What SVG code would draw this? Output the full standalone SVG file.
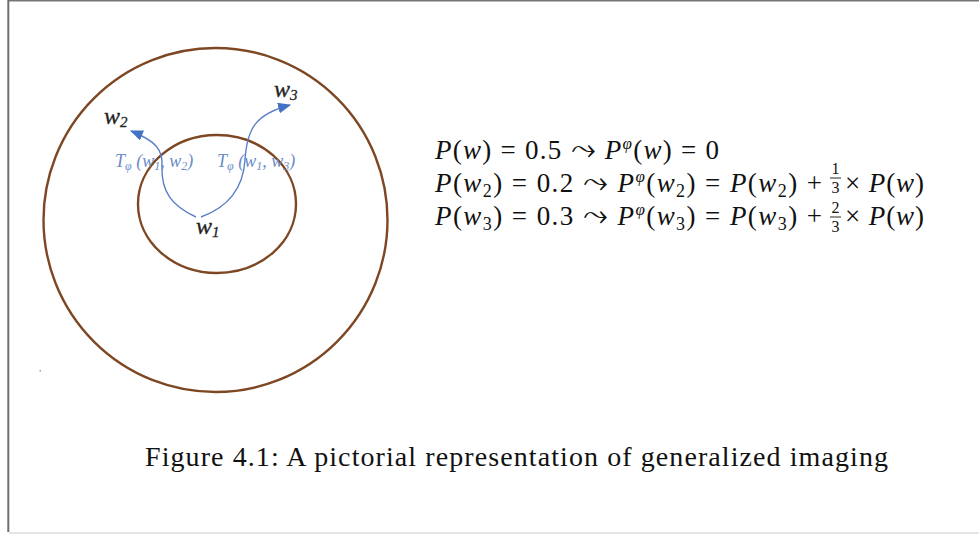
<svg xmlns="http://www.w3.org/2000/svg" width="979" height="534" viewBox="0 0 979 534">
<style>
.ring{fill:none;stroke:#7e4723;stroke-width:2.4}
.arc{fill:none;stroke:#5b80c6;stroke-width:1.4}
.lbl{font-family:"Liberation Serif",serif;font-style:italic;font-size:24px;fill:#222;stroke:#222;stroke-width:0.3}
.tl{font-family:"Liberation Serif",serif;font-style:italic;font-size:18px;fill:#6a8cc8}
.eq{font-family:"Liberation Serif","DejaVu Serif",serif;font-size:27px;fill:#111}
.i{font-style:italic}
.ar{font-family:"DejaVu Sans",sans-serif;font-size:31px}
.fr{font-family:"Liberation Serif",serif;font-size:16px;fill:#111}
.cap{font-family:"Liberation Serif",serif;font-size:28px;fill:#111}
</style>
<defs>
<marker id="ah" viewBox="0 0 12 10" refX="11" refY="5" markerWidth="13" markerHeight="11" markerUnits="userSpaceOnUse" orient="auto">
<path d="M0,0 L12,5 L0,10 Z" fill="#4472c4"/>
</marker>
</defs>
<rect x="0" y="0" width="979" height="534" fill="#fff"/>
<g id="frame">
<line x1="8" y1="0.8" x2="979" y2="0.8" stroke="#777" stroke-width="1.6"/>
<line x1="8.3" y1="0" x2="8.3" y2="532" stroke="#6e6e6e" stroke-width="2"/>
<line x1="9" y1="533" x2="979" y2="533" stroke="#ccc" stroke-width="1.2"/>
<rect x="39.5" y="370" width="1.5" height="1.5" fill="#999"/>
</g>
<g id="outer-world"><circle class="ring" cx="215.5" cy="220" r="172"/></g>
<g id="inner-world"><ellipse class="ring" cx="217" cy="204" rx="79" ry="69"/></g>
<g id="connectors">
<path class="arc" d="M196,217 C172,206 161,192 162,166 C163,150 156,141 131,131" marker-end="url(#ah)"/>
<path class="arc" d="M201,217 C226,208 243,190 245,160 C247,128 256,114 290,105" marker-end="url(#ah)"/>
</g>
<g id="w1"><text class="lbl" x="196" y="234">w<tspan font-size="15" dy="3">1</tspan></text></g>
<g id="w2"><text class="lbl" x="104" y="124">w<tspan font-size="15" dy="3">2</tspan></text></g>
<g id="w3"><text class="lbl" x="274" y="97">w<tspan font-size="15" dy="3">3</tspan></text></g>
<g id="t12"><text class="tl" x="115" y="167">T<tspan font-size="12" dy="3">φ</tspan><tspan dy="-3"> (w</tspan><tspan font-size="12" dy="3">1</tspan><tspan dy="-3">, w</tspan><tspan font-size="12" dy="3">2</tspan><tspan dy="-3">)</tspan></text></g>
<g id="t13"><text class="tl" x="217" y="167">T<tspan font-size="12" dy="3">φ</tspan><tspan dy="-3"> (w</tspan><tspan font-size="12" dy="3">1</tspan><tspan dy="-3">, w</tspan><tspan font-size="12" dy="3">3</tspan><tspan dy="-3">)</tspan></text></g>
<g id="equations">
<text class="eq" x="435" y="159" textLength="284" lengthAdjust="spacing"><tspan class="i">P</tspan>(<tspan class="i">w</tspan>) = 0.5 <tspan class="ar">⤳</tspan> <tspan class="i">P</tspan><tspan class="i" font-size="17" dy="-10">φ</tspan><tspan dy="10">(</tspan><tspan class="i">w</tspan>) = 0</text>
<text class="eq" x="435" y="192" textLength="387" lengthAdjust="spacing"><tspan class="i">P</tspan>(<tspan class="i">w</tspan><tspan font-size="18" dy="5">2</tspan><tspan dy="-5">) = 0.2 </tspan><tspan class="ar">⤳</tspan> <tspan class="i">P</tspan><tspan class="i" font-size="17" dy="-10">φ</tspan><tspan dy="10">(</tspan><tspan class="i">w</tspan><tspan font-size="18" dy="5">2</tspan><tspan dy="-5">) = </tspan><tspan class="i">P</tspan>(<tspan class="i">w</tspan><tspan font-size="18" dy="5">2</tspan><tspan dy="-5">) +</tspan></text>
<text class="fr" x="835.5" y="174" text-anchor="middle">1</text>
<line x1="830" y1="178" x2="841" y2="178" stroke="#111" stroke-width="0.9"/>
<text class="fr" x="835.5" y="193" text-anchor="middle">3</text>
<text class="eq" x="845" y="192" textLength="79" lengthAdjust="spacing">× <tspan class="i">P</tspan>(<tspan class="i">w</tspan>)</text>
<text class="eq" x="435" y="225" textLength="387" lengthAdjust="spacing"><tspan class="i">P</tspan>(<tspan class="i">w</tspan><tspan font-size="18" dy="5">3</tspan><tspan dy="-5">) = 0.3 </tspan><tspan class="ar">⤳</tspan> <tspan class="i">P</tspan><tspan class="i" font-size="17" dy="-10">φ</tspan><tspan dy="10">(</tspan><tspan class="i">w</tspan><tspan font-size="18" dy="5">3</tspan><tspan dy="-5">) = </tspan><tspan class="i">P</tspan>(<tspan class="i">w</tspan><tspan font-size="18" dy="5">3</tspan><tspan dy="-5">) +</tspan></text>
<text class="fr" x="835.5" y="213" text-anchor="middle">2</text>
<line x1="830" y1="217" x2="841" y2="217" stroke="#111" stroke-width="0.9"/>
<text class="fr" x="835.5" y="232" text-anchor="middle">3</text>
<text class="eq" x="845" y="225" textLength="79" lengthAdjust="spacing">× <tspan class="i">P</tspan>(<tspan class="i">w</tspan>)</text>
</g>
<g id="caption"><text class="cap" x="145" y="466" textLength="743" lengthAdjust="spacing">Figure 4.1: A pictorial representation of generalized imaging</text></g>
</svg>
